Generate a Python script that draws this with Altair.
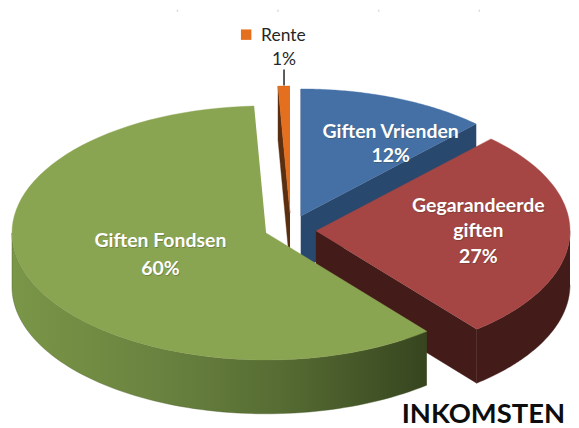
import altair as alt
import numpy as np
import pandas as pd

# Data
names = ["Giften Vrienden", "Gegarandeerde giften", "Giften Fondsen", "Rente"]
shares = [12.1, 27.0, 60.15, 0.75]
label_lines = [["Giften Vrienden", "12%"], ["Gegarandeerde", "giften", "27%"], ["Giften Fondsen", "60%"]]
rente_name = "Rente"
rente_label = "1%"
title = "INKOMSTEN"

# Styles / projection
top_colors = ["#4470A6", "#A54644", "#8AA552", "#E4701F"]
RX, RY, DEPTH = 255, 127.5, 54
START = 0
apex = [(302, 215), (317, 230), (267, 232), (291, 212)]
LX = [392, 480, 161]
LY = [[131, 155], [205, 230, 256], [240, 268]]

W, H = 563, 420
xs = alt.Scale(domain=[8, 571], range=[0, W], nice=False, zero=False)
ys = alt.Scale(domain=[8, 428], range=[0, H], nice=False, zero=False)
X = alt.X("x:Q", scale=xs, axis=None)
Y = alt.Y("y:Q", scale=ys, axis=None)

# slice angles from the shares
edges = START + np.cumsum([0] + [s * 3.6 for s in shares])


def rim(i, t0, t1, dz=0, n=80):
    cx, cy = apex[i]
    t = np.radians(np.linspace(t0, t1, n))
    return list(zip(cx + RX * np.sin(t), cy - RY * np.cos(t) + dz))


def poly(points, fill, stroke=None):
    df = pd.DataFrame(points, columns=["x", "y"])
    df["i"] = range(len(df))
    return alt.Chart(df).mark_line(
        fill=fill, stroke=stroke or (fill if isinstance(fill, str) else "#4A5C2A"),
        strokeWidth=0.4, clip=False
    ).encode(x=X, y=Y, order=alt.Order("i:Q"))


def extrude_edge(i, t):
    p = rim(i, t, t, n=1)[0]
    a = apex[i]
    return [a, p, (p[0], p[1] + DEPTH), (a[0], a[1] + DEPTH)]


def extrude_rim(i, t0, t1):
    return rim(i, t0, t1) + rim(i, t1, t0, DEPTH)


def top(i):
    return [apex[i]] + rim(i, edges[i], edges[i + 1])


layers = []
# ticks of the cropped chart above
tick_df = pd.DataFrame({"x": [178, 279, 380, 481], "y": [8] * 4, "y2": [10] * 4})
layers.append(alt.Chart(tick_df).mark_rule(color="#D9D9D9", strokeWidth=1.5).encode(x=X, y=Y, y2="y2:Q"))

# Rente
layers.append(poly(extrude_edge(3, edges[3]), "#5A2E10"))
layers.append(poly(top(3), top_colors[3]))
# Vrienden
layers.append(poly(extrude_edge(0, edges[1]), "#29486D"))
layers.append(poly(extrude_edge(0, edges[0]), "#29486D"))
layers.append(poly(top(0), top_colors[0]))
# Gegarandeerd
layers.append(poly(extrude_edge(1, edges[2]), "#431C1A"))
layers.append(poly(extrude_rim(1, 90, edges[2]), "#431C1A"))
layers.append(poly(top(1), top_colors[1]))
# Fondsen
green_grad = alt.Gradient(
    gradient="linear", x1=0, x2=1, y1=0, y2=0,
    stops=[alt.GradientStop(color="#7A9647", offset=0),
           alt.GradientStop(color="#6A8340", offset=0.35),
           alt.GradientStop(color="#566C33", offset=0.65),
           alt.GradientStop(color="#37451F", offset=1)],
)
layers.append(poly(extrude_rim(2, edges[2], 270), green_grad))
layers.append(poly(top(2), top_colors[2]))

# leader and legend key
leader = pd.DataFrame({"x": [285], "y": [68], "y2": [84]})
layers.append(alt.Chart(leader).mark_rule(color="#262626", strokeWidth=1.5).encode(x=X, y=Y, y2="y2:Q"))
key = pd.DataFrame({"x": [247], "y": [33]})
layers.append(alt.Chart(key).mark_point(shape="square", filled=True, size=110, color=top_colors[3], opacity=1).encode(x=X, y=Y))

rows = []
for i, lines in enumerate(label_lines):
    for j, line in enumerate(lines):
        rows.append({"x": LX[i], "y": LY[i][j], "t": line})
lab = pd.DataFrame(rows)
layers.append(alt.Chart(lab).mark_text(font="Lato", fontSize=19.5, fontWeight="bold", color="#30351F", opacity=0.3, dx=0.8, dy=0.8).encode(x=X, y=Y, text="t:N"))
layers.append(alt.Chart(lab).mark_text(font="Lato", fontSize=19.5, fontWeight="bold", color="#FFFFFF").encode(x=X, y=Y, text="t:N"))

dark = pd.DataFrame({"x": [262, 285], "y": [34, 58], "t": [rente_name, rente_label]})
layers.append(alt.Chart(dark.iloc[[0]]).mark_text(font="Lato", fontSize=17.5, align="left", color="#262626").encode(x=X, y=Y, text="t:N"))
layers.append(alt.Chart(dark.iloc[[1]]).mark_text(font="Lato", fontSize=17.5, align="center", color="#262626").encode(x=X, y=Y, text="t:N"))
tt = pd.DataFrame({"x": [567], "y": [415], "t": [title]})
layers.append(alt.Chart(tt).mark_text(font="Lato", fontSize=27.5, fontWeight="bold", align="right", color="#0D0D0D").encode(x=X, y=Y, text="t:N"))

chart = alt.layer(*layers).properties(width=W, height=H, padding=0, background="#FFFFFF").configure_view(stroke=None)
chart.save("out.html", embed_options={"renderer": "svg", "actions": False})
